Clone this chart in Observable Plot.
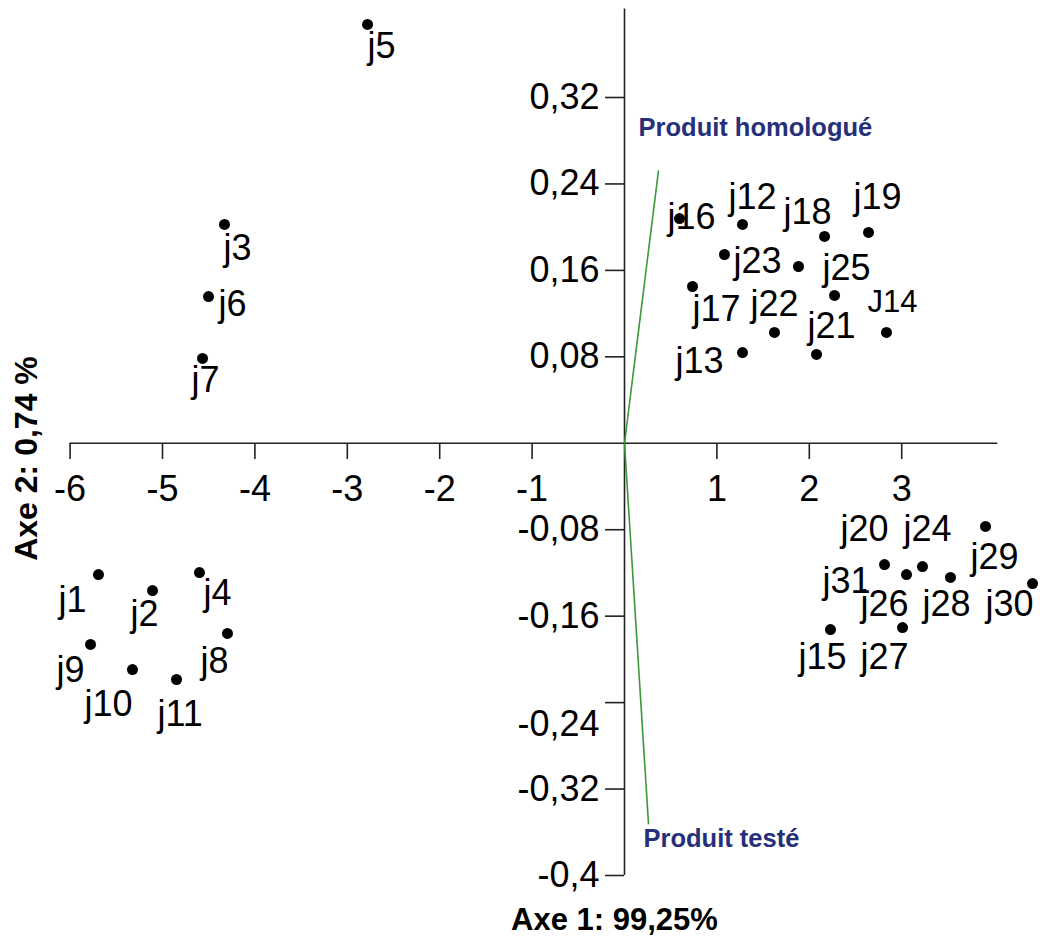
<!DOCTYPE html>
<html>
<head>
<meta charset="utf-8">
<script src="https://cdn.jsdelivr.net/npm/d3@7"></script>
<script src="https://cdn.jsdelivr.net/npm/@observablehq/plot@0.6"></script>
<style>
  body { margin: 0; background: #fff; }
  #chart svg { overflow: visible; }
</style>
</head>
<body>
<div id="chart"></div>
<script>
// Juror scores on the first two factorial axes (one dot each)
const dotAxis1 = [
  -2.781, -4.329, -4.502, -4.567,
  -5.693, -5.108, -4.600, -4.297, -5.779, -5.325, -4.848,
  0.595, 1.277, 2.165, 2.641, 1.082, 1.883, 0.736, 2.273, 1.623, 2.835, 1.277, 2.078,
  2.814, 3.052, 3.225, 3.528, 3.907, 4.416, 2.229, 3.009
];
const dotAxis2 = [
  0.3876, 0.2025, 0.1358, 0.0785,
  -0.1215, -0.1363, -0.1196, -0.1760, -0.1862, -0.2094, -0.2186,
  0.2080, 0.2025, 0.1914, 0.1951, 0.1747, 0.1636, 0.1451, 0.1368, 0.1026, 0.1026, 0.0840, 0.0822,
  -0.1122, -0.1215, -0.1141, -0.1242, -0.0770, -0.1298, -0.1724, -0.1705
];

// Juror names and the spot on the map where each name is written
const jurorNames = [
  "j5", "j3", "j6", "j7",
  "j1", "j2", "j4", "j8", "j9", "j10", "j11",
  "j16", "j12", "j18", "j19", "j23", "j25", "j17", "j22", "j21", "J14", "j13",
  "j20", "j24", "j29", "j31", "j26", "j28", "j30", "j15", "j27"
];
const nameAxis1 = [
  -2.781, -4.340, -4.394, -4.686,
  -6.126, -5.346, -4.556, -4.589, -6.147, -5.844, -5.054,
  0.465, 1.126, 1.721, 2.478, 1.180, 2.143, 0.736, 1.364, 1.981, 2.630, 0.552,
  2.338, 3.019, 3.745, 2.143, 2.554, 3.225, 3.907, 1.883, 2.554
];
const nameAxis2 = [
  0.3672, 0.1803, 0.1284, 0.0581,
  -0.1455, -0.1585, -0.1390, -0.2019, -0.2103, -0.2417, -0.2510,
  0.2090, 0.2275, 0.2136, 0.2275, 0.1683, 0.1618, 0.1238, 0.1285, 0.1081, 0.1303, 0.0757,
  -0.0798, -0.0798, -0.1057, -0.1279, -0.1492, -0.1492, -0.1492, -0.1982, -0.1982
];

// Products drawn as vectors from the origin, with their captions
const productNames = ["Produit homologué", "Produit testé"];
const productAxis1 = [0.368, 0.260];
const productAxis2 = [0.2525, -0.3527];
const productNameAxis1 = [0.152, 0.206];
const productNameAxis2 = [0.2923, -0.3665];

// Axis ticks and titles
const axis1Ticks = [-6, -5, -4, -3, -2, -1, 1, 2, 3];
const axis2Ticks = [0.32, 0.24, 0.16, 0.08, -0.08, -0.16, -0.24, -0.32, -0.4];
const axis2ShiftedLabel = [-0.24];
const axis1Title = "Axe 1: 99,25%";
const axis2Title = "Axe 2: 0,74 %";

const dots = dotAxis1.map((x, i) => ({x, y: dotAxis2[i]}));
const names = jurorNames.map((name, i) => ({name, x: nameAxis1[i], y: nameAxis2[i]}));
const products = productNames.map((name, i) => ({
  name, x: productAxis1[i], y: productAxis2[i], lx: productNameAxis1[i], ly: productNameAxis2[i]
}));

const comma = d => String(d).replace(".", ",");
const ink = "#222";

const chart = Plot.plot({
  width: 1043,
  height: 945,
  // the frame's left and bottom edges sit on the two axes (x = 0, y = 0)
  marginLeft: 624,
  marginBottom: 502,
  marginTop: 8,
  marginRight: 46,
  x: {domain: [-6, 4.04], range: [69.6, 997.3]},
  y: {domain: [-0.4, 0.402], range: [875.0, 8.4]},
  style: {fontFamily: "'Liberation Sans', Arial, sans-serif", fontSize: "36px", color: "black", background: "white"},
  marks: [
    // axis lines through the origin
    Plot.ruleY([0], {x1: -6, x2: 4.04, stroke: ink, strokeWidth: 1.6}),
    Plot.ruleX([0], {y1: -0.4, y2: 0.402, stroke: ink, strokeWidth: 1.6}),
    Plot.axisX({
      ticks: axis1Ticks, anchor: "bottom", tickSize: 16, tickPadding: 16,
      tickFormat: d => String(d), fontSize: 36, stroke: ink, strokeWidth: 1.6, label: null
    }),
    Plot.axisY({
      ticks: axis2Ticks, anchor: "left", tickSize: 19, tickPadding: 6,
      tickFormat: d => axis2ShiftedLabel.includes(d) ? "" : comma(d),
      fontSize: 36, stroke: ink, strokeWidth: 1.6, label: null
    }),
    Plot.text(axis2ShiftedLabel, {
      y: d => d, frameAnchor: "left", dx: -25, dy: 22, text: comma,
      textAnchor: "end", fontSize: 36, fill: "black"
    }),
    // product vectors
    Plot.link(products, {x1: 0, y1: 0, x2: "x", y2: "y", stroke: "#3a9a3a", strokeWidth: 1.6}),
    Plot.text(products, {
      x: "lx", y: "ly", text: "name", textAnchor: "start", lineAnchor: "middle",
      fontSize: 25.5, fontWeight: "bold", fill: "#26307a"
    }),
    // jurors
    Plot.text(names, {
      x: "x", y: "y", text: "name", textAnchor: "start", lineAnchor: "middle",
      fontSize: d => d.name === "J14" ? 31 : 36, fill: "black"
    }),
    Plot.dot(dots, {x: "x", y: "y", r: 5.5, fill: "black", stroke: null}),
    // axis titles
    Plot.text([axis1Title], {
      frameAnchor: "bottom-left", dx: -10, dy: 486, text: d => d,
      fontSize: 31, fontWeight: "bold", textAnchor: "middle", fill: "black"
    }),
    Plot.text([axis2Title], {
      frameAnchor: "bottom-left", dx: -588, dy: 15, rotate: -90, text: d => d,
      fontSize: 32, fontWeight: "bold", textAnchor: "middle", fill: "black"
    })
  ]
});

document.getElementById("chart").append(chart);
</script>
</body>
</html>
